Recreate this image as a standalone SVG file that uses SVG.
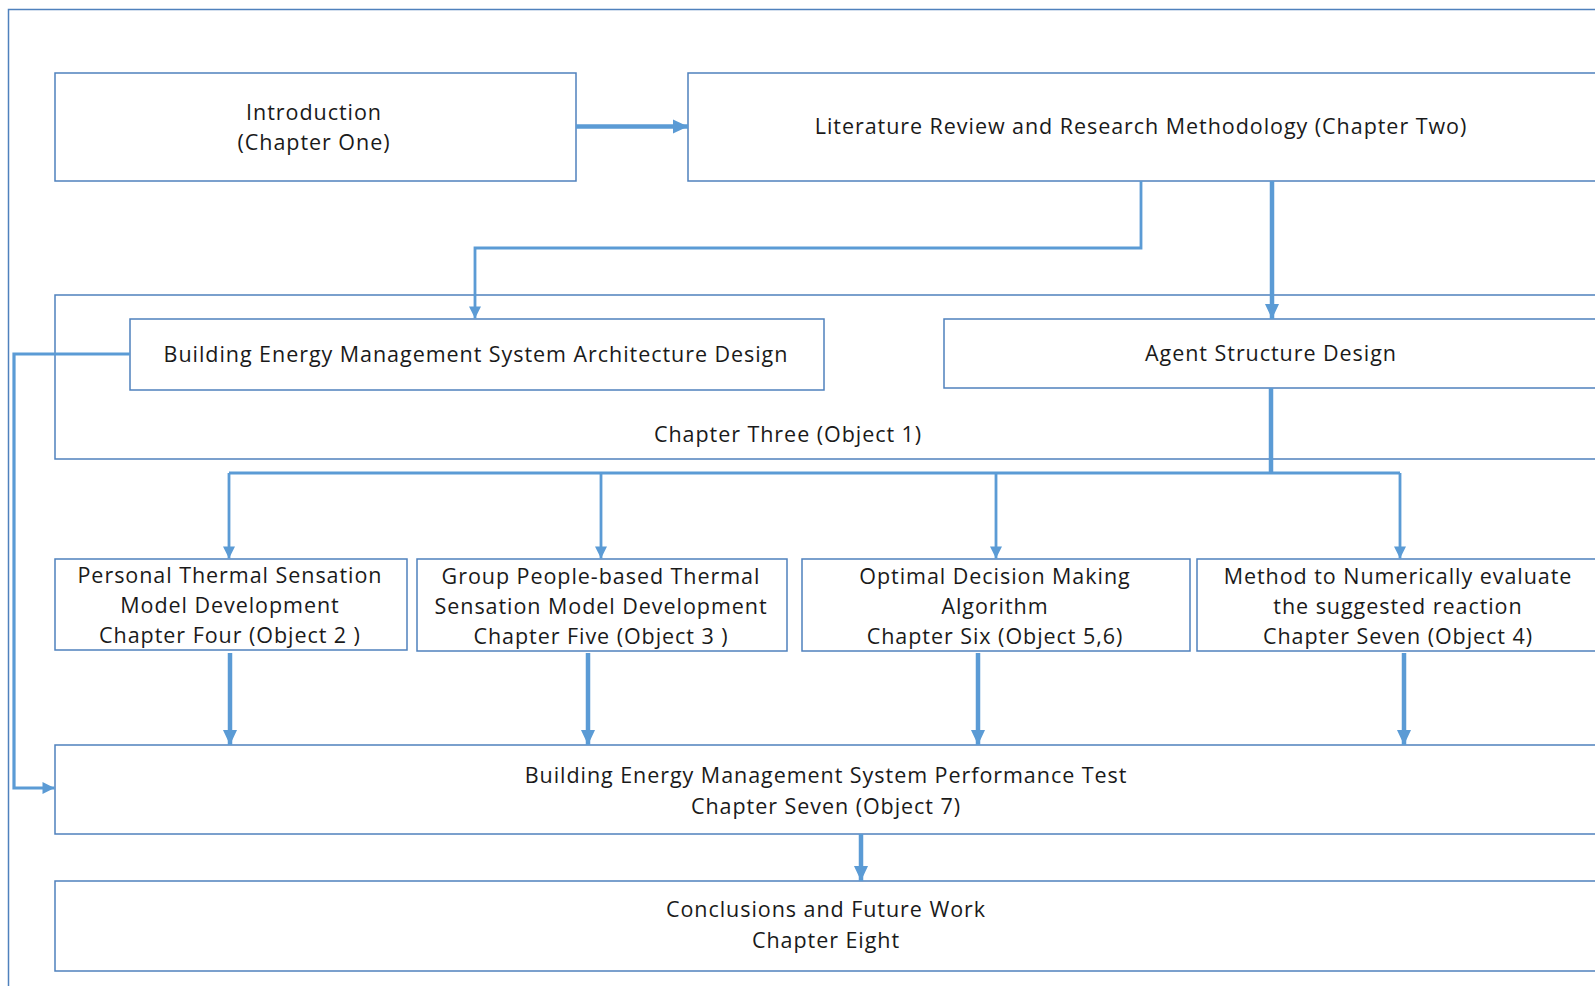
<svg xmlns="http://www.w3.org/2000/svg" width="1595" height="986" viewBox="0 0 1595 986">
  <style>
    .box { fill: #ffffff; stroke: #4f81bd; stroke-width: 1.5; }
    .frame { fill: none; stroke: #4f81bd; stroke-width: 1.5; }
    .lbl { font-family: "Open Sans", "Noto Sans", sans-serif; font-size: 21.5px; fill: #1a1a1a; text-anchor: middle; letter-spacing: 0.95px; }
    .thick { fill: none; stroke: #5b9bd5; stroke-width: 4.5; }
    .thin { fill: none; stroke: #5b9bd5; stroke-width: 2.8; }
  </style>
  <defs>
    <!-- larger head for the heavy arrows -->
    <marker id="arrow-lg" markerUnits="userSpaceOnUse" markerWidth="16" markerHeight="16" viewBox="0 0 16 16" refX="15" refY="8" orient="auto">
      <path d="M0,1 L15,8 L0,15 Z" fill="#5b9bd5"/>
    </marker>
    <marker id="arrow" markerUnits="userSpaceOnUse" markerWidth="14" markerHeight="14" viewBox="0 0 14 14" refX="13" refY="7" orient="auto">
      <path d="M1,1 L13,7 L1,13 Z" fill="#5b9bd5"/>
    </marker>
  </defs>

  <rect width="1595" height="986" fill="#ffffff"/>
  <rect class="frame" x="8.5" y="9.5" width="1700" height="1100"/>

  <g id="chapter-three">
    <rect class="box" x="55" y="295" width="1600" height="164"/>
    <text class="lbl" x="788" y="441.5">Chapter Three (Object 1)</text>
  </g>

  <g id="introduction">
    <rect class="box" x="55" y="73" width="521" height="108"/>
    <text class="lbl" x="314" y="119.5">Introduction</text>
    <text class="lbl" x="314" y="149.5">(Chapter One)</text>
  </g>

  <g id="literature-review">
    <rect class="box" x="688" y="73" width="1000" height="108"/>
    <text class="lbl" x="1141" y="133.5">Literature Review and Research Methodology (Chapter Two)</text>
  </g>

  <g id="architecture-design">
    <rect class="box" x="130" y="319" width="694" height="71"/>
    <text class="lbl" x="476" y="361.5">Building Energy Management System Architecture Design</text>
  </g>

  <g id="agent-structure">
    <rect class="box" x="944" y="319" width="800" height="69"/>
    <text class="lbl" x="1271" y="360.5">Agent Structure Design</text>
  </g>

  <g id="personal-thermal">
    <rect class="box" x="55" y="559" width="352" height="91"/>
    <text class="lbl" x="230" y="582.5">Personal Thermal Sensation</text>
    <text class="lbl" x="230" y="612.5">Model Development</text>
    <text class="lbl" x="230" y="642.5">Chapter Four (Object 2 )</text>
  </g>

  <g id="group-thermal">
    <rect class="box" x="417" y="559" width="370" height="92"/>
    <text class="lbl" x="601" y="583.5">Group People-based Thermal</text>
    <text class="lbl" x="601" y="613.5">Sensation Model Development</text>
    <text class="lbl" x="601" y="643.5">Chapter Five (Object 3 )</text>
  </g>

  <g id="decision-making">
    <rect class="box" x="802" y="559" width="388" height="92"/>
    <text class="lbl" x="995" y="583.5">Optimal Decision Making</text>
    <text class="lbl" x="995" y="613.5">Algorithm</text>
    <text class="lbl" x="995" y="643.5">Chapter Six (Object 5,6)</text>
  </g>

  <g id="numerical-evaluation">
    <rect class="box" x="1197" y="559" width="500" height="92"/>
    <text class="lbl" x="1398" y="583.5">Method to Numerically evaluate</text>
    <text class="lbl" x="1398" y="613.5">the suggested reaction</text>
    <text class="lbl" x="1398" y="643.5">Chapter Seven (Object 4)</text>
  </g>

  <g id="performance-test">
    <rect class="box" x="55" y="745" width="1600" height="89"/>
    <text class="lbl" x="826" y="782.5">Building Energy Management System Performance Test</text>
    <text class="lbl" x="826" y="813.5">Chapter Seven (Object 7)</text>
  </g>

  <g id="conclusions">
    <rect class="box" x="55" y="881" width="1600" height="90"/>
    <text class="lbl" x="826" y="917">Conclusions and Future Work</text>
    <text class="lbl" x="826" y="948">Chapter Eight</text>
  </g>

  <g id="connectors">
    <path class="thick" d="M576,126.5 H688" marker-end="url(#arrow-lg)"/>
    <path class="thin" d="M1141,181 V248 H475 V318.5" marker-end="url(#arrow)"/>
    <path class="thick" d="M1272,181 V319" marker-end="url(#arrow-lg)"/>
    <path class="thick" d="M1271,388 V473"/>
    <path class="thin" d="M229,473 H1400" style="stroke-width:3.2"/>
    <path class="thin" d="M229,473 V558.5" marker-end="url(#arrow)"/>
    <path class="thin" d="M601,473 V558.5" marker-end="url(#arrow)"/>
    <path class="thin" d="M996,473 V558.5" marker-end="url(#arrow)"/>
    <path class="thin" d="M1400,473 V558.5" marker-end="url(#arrow)"/>
    <path class="thick" d="M230,653 V745" marker-end="url(#arrow-lg)"/>
    <path class="thick" d="M588,653 V745" marker-end="url(#arrow-lg)"/>
    <path class="thick" d="M978,653 V745" marker-end="url(#arrow-lg)"/>
    <path class="thick" d="M1404,653 V745" marker-end="url(#arrow-lg)"/>
    <path class="thick" d="M861,834 V881" marker-end="url(#arrow-lg)"/>
    <path class="thin" d="M130,354 H14 V788 H54.5" style="stroke-width:3.2" marker-end="url(#arrow)"/>
  </g>
</svg>
